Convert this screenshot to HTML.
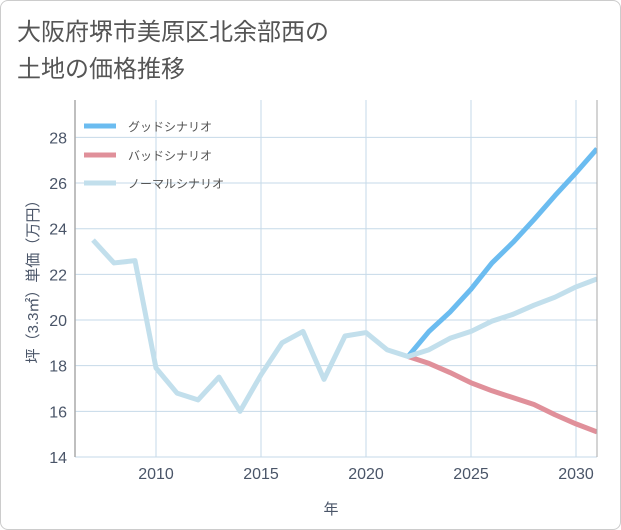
<!DOCTYPE html>
<html><head><meta charset="utf-8"><style>
body{margin:0;background:#fff;}
#card{position:absolute;left:0;top:0;width:619px;height:528px;border:1px solid #ccc;border-radius:8px;background:#fff;}
.t{font-family:"Liberation Sans","Noto Sans CJK JP",sans-serif;}
</style></head><body>
<div id="card"></div>
<svg width="621" height="530" style="position:absolute;left:0;top:0">
<text class="t" x="17" y="40" font-size="24" fill="#555">大阪府堺市美原区北余部西の</text>
<text class="t" x="17" y="77" font-size="24" fill="#555">土地の価格推移</text>
<g id="grid"></g><g id="series"></g><g id="axes"></g>
<text class="t" x="331" y="514" font-size="15" fill="#4a5568" text-anchor="middle">年</text>
<text class="t" transform="translate(38,278) rotate(-90)" font-size="15" fill="#4a5568" text-anchor="middle">坪（3.3㎡）単価（万円）</text>
<g>
<line x1="84" y1="126" x2="116" y2="126" stroke="#6bbcf0" stroke-width="5"/>
<text class="t" x="128" y="131" font-size="12" fill="#555">グッドシナリオ</text>
<line x1="84" y1="155" x2="116" y2="155" stroke="#e0909a" stroke-width="5"/>
<text class="t" x="128" y="160" font-size="12" fill="#555">バッドシナリオ</text>
<line x1="84" y1="183" x2="116" y2="183" stroke="#c2dfec" stroke-width="5"/>
<text class="t" x="128" y="188" font-size="12" fill="#555">ノーマルシナリオ</text>
</g>
</svg>
<script>
const years=[2007,2008,2009,2010,2011,2012,2013,2014,2015,2016,2017,2018,2019,2020,2021,2022,2023,2024,2025,2026,2027,2028,2029,2030,2031];
const normalValues=[23.5,22.5,22.6,17.9,16.8,16.5,17.5,16.0,17.6,19.0,19.5,17.4,19.3,19.45,18.7,18.4,18.7,19.2,19.5,19.95,20.25,20.65,21.0,21.45,21.8];
const forecastYears=[2022,2023,2024,2025,2026,2027,2028,2029,2030,2031];
const goodValues=[18.4,19.5,20.35,21.35,22.5,23.4,24.4,25.45,26.45,27.5];
const badValues=[18.4,18.1,17.7,17.25,16.9,16.6,16.3,15.85,15.45,15.1];
const xTicks=[2010,2015,2020,2025,2030];
const yTicks=[14,16,18,20,22,24,26,28];
const NS='http://www.w3.org/2000/svg';
const L=75,R=597,T=100,B=457;
const x=v=>156+(v-2010)*21;
const y=v=>B-(v-14)*22.83;
function mk(tag,attrs,parent){const e=document.createElementNS(NS,tag);for(const k in attrs)e.setAttribute(k,attrs[k]);parent.appendChild(e);return e;}
const grid=document.getElementById('grid'),axes=document.getElementById('axes'),ser=document.getElementById('series');
yTicks.forEach(v=>{
 const l=mk('line',{x1:L,x2:R,y1:y(v),y2:y(v),stroke:'#c6dae8','stroke-width':1},grid);
 
 
 const t=mk('text',{x:L-8,y:y(v)+6,'font-size':16,fill:'#4a5568','text-anchor':'end',class:'t'},axes);
 t.textContent=v;
 
 
});
xTicks.forEach(v=>{
 const l=mk('line',{x1:x(v),x2:x(v),y1:T,y2:B,stroke:'#c6dae8','stroke-width':1},grid);
 
 
 const t=mk('text',{x:x(v),y:B+22,'font-size':16,fill:'#4a5568','text-anchor':'middle',class:'t'},axes);
 t.textContent=v;
 
 
});
const ax=mk('line',{x1:L,x2:L,y1:T,y2:B,stroke:'#aaa','stroke-width':1.5},axes);


const ax2=mk('line',{x1:R,x2:R,y1:T,y2:B,stroke:'#aaa','stroke-width':1},axes);


const clip=mk('clipPath',{id:'pc'},ser);mk('rect',{x:L,y:T,width:R-L,height:B-T},clip);
function line(xs,vs,color,name){
 const p=mk('polyline',{points:xs.map((a,i)=>x(a)+','+y(vs[i])).join(' '),fill:'none',stroke:color,'stroke-width':5,'stroke-linejoin':'round','clip-path':'url(#pc)'},ser);
 
 
}
line(forecastYears,badValues,'#e0909a','bad-scenario-line');
line(forecastYears,goodValues,'#6bbcf0','good-scenario-line');
line(years,normalValues,'#c2dfec','normal-scenario-line');
</script>
</body></html>
